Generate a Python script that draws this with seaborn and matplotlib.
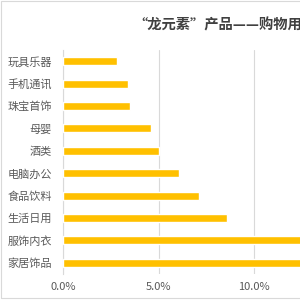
import matplotlib
matplotlib.use("Agg")
import matplotlib.pyplot as plt
import matplotlib.ticker as mticker
from matplotlib.patches import Rectangle
import seaborn as sns
import pandas as pd

categories = ["玩具乐器", "手机通讯", "珠宝首饰", "母婴", "酒类", "电脑办公",
              "食品饮料", "生活日用", "服饰内衣", "家居饰品"]
shares = [2.8, 3.42, 3.52, 4.6, 5.0, 6.05, 7.1, 8.6, 14.5, 15.0]
title = "“龙元素”产品——购物用户分布"

sns.set_style("white")
plt.rcParams['font.family'] = ['Noto Sans CJK SC', 'DejaVu Sans']

df = pd.DataFrame({"cat": categories, "share": shares})

fig = plt.figure(figsize=(3, 3), dpi=100)
ax = fig.add_axes([0.21, 0.087, 0.79, 0.746])
sns.barplot(data=df, x="share", y="cat", color="#FFC000", width=0.36,
            saturation=1, ax=ax, zorder=3)

ax.set_xlim(0, 12.4)
ax.set_xticks([0, 5, 10])
ax.xaxis.set_major_formatter(mticker.FuncFormatter(lambda v, p: f"{v:.1f}%"))
ax.grid(axis="x", color="#D9D9D9", linewidth=0.8, zorder=0)
ax.set_xlabel("")
ax.set_ylabel("")
for s in ["top", "right", "bottom"]:
    ax.spines[s].set_visible(False)
ax.spines["left"].set_color("#D9D9D9")
ax.spines["left"].set_linewidth(0.8)
ax.tick_params(axis="both", length=0, labelsize=8, colors="#595959")
ax.tick_params(axis="y", pad=8)
ax.tick_params(axis="x", pad=6)

# title runs off the right edge, as in the reference
fig.text(0.443, 0.915, title, fontsize=10.3, fontweight="bold",
         color="#404040", ha="left", va="center")
fig.patches.append(Rectangle((0.003, 0.008), 1.2, 0.99, transform=fig.transFigure,
                             fill=False, edgecolor="#D9D9D9", linewidth=0.8))

fig.savefig("out.png", dpi=100)
